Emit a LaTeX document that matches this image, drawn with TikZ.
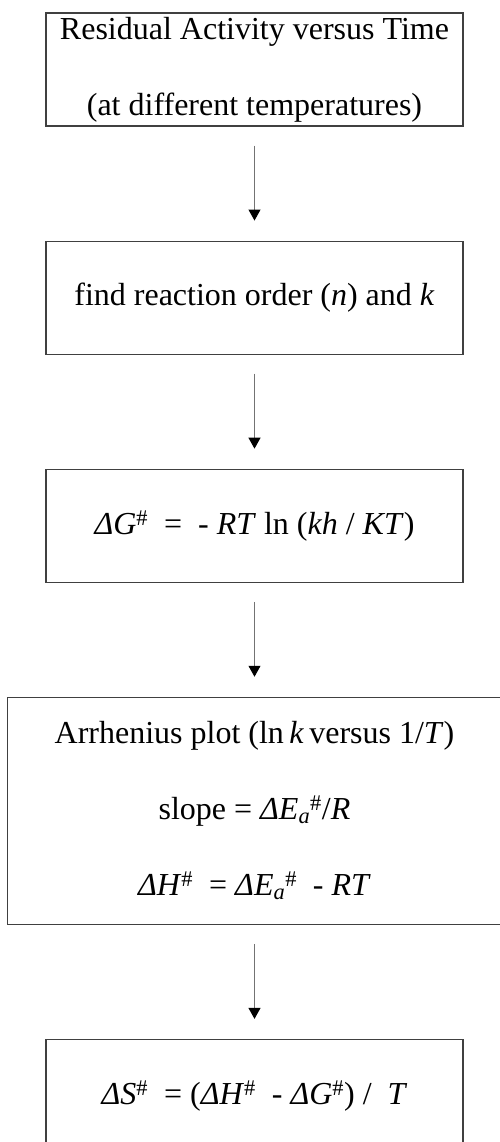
\documentclass[tikz,border=0pt]{standalone}
\usepackage{fontspec}
\setmainfont{Liberation Serif}
\usetikzlibrary{arrows.meta, positioning}

\begin{document}
\begin{tikzpicture}[
    x=1pt, y=1pt,
    node distance=114pt,
    every node/.style={align=center, font=\fontsize{32}{76}\selectfont},
    stepbox/.style={rectangle, draw=black!75, line width=1.1pt, minimum width=417pt, minimum height=113pt, inner sep=0pt},
    widebox/.style={stepbox, minimum width=494pt, minimum height=227pt},
    arrow/.style={-{Triangle[length=11pt, width=12pt, color=black]}, draw=black!55, line width=1pt, shorten <=19pt, shorten >=20pt}
]
\useasboundingbox (0,0) rectangle (499,-1142);

% Nodes
\node[stepbox] (data) at (254.5,-69.5) {Residual Activity versus Time\\(at different temperatures)};
\node[stepbox, below=of data] (order) {find reaction order (\textit{n}) and \textit{k}};
\node[stepbox, below=of order] (gibbs) {\textit{ΔG}\textsuperscript{\#}~ = ~- \textit{RT} ln (\textit{kh} / \textit{KT})};
\node[widebox, below=of gibbs] (arrh) {Arrhenius plot (ln\,\textit{k}\,versus 1/\textit{T})\\
    slope = \textit{ΔE\textsubscript{a}}\textsuperscript{\#}/\textit{R}\\
    \textit{ΔH}\textsuperscript{\#}~ = \textit{ΔE\textsubscript{a}}\textsuperscript{\#}~ - \textit{RT}};
\node[stepbox, below=of arrh] (entropy) {\textit{ΔS}\textsuperscript{\#}~ = (\textit{ΔH}\textsuperscript{\#}~ - \textit{ΔG}\textsuperscript{\#}) / ~\textit{T}};

% Connections
\draw[arrow] (data) -- (order);
\draw[arrow] (order) -- (gibbs);
\draw[arrow] (gibbs) -- (arrh);
\draw[arrow] (arrh) -- (entropy);

\end{tikzpicture}
\end{document}
